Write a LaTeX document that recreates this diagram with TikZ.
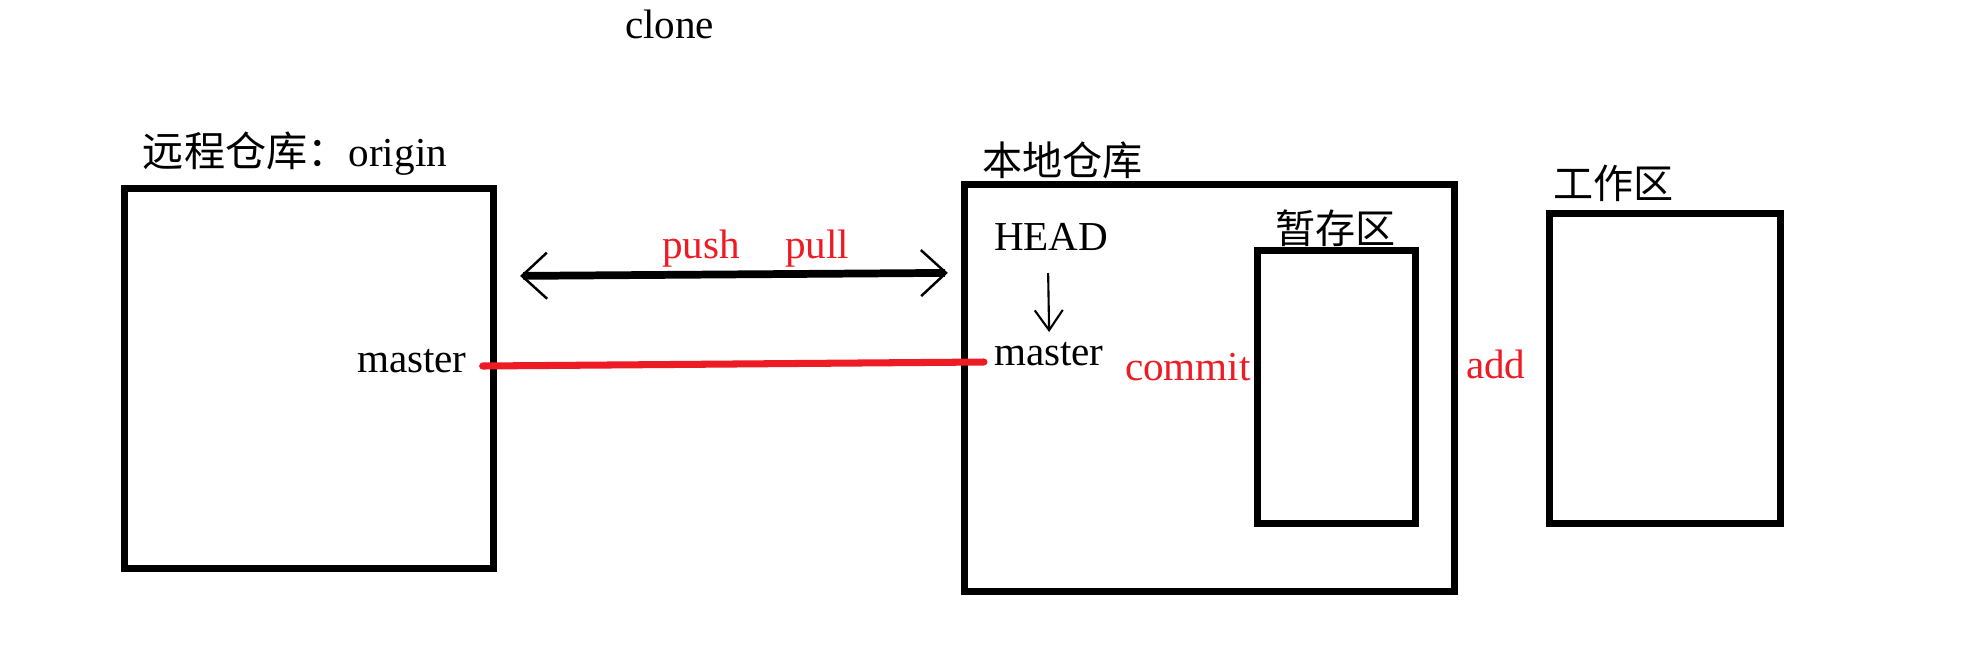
\documentclass[tikz,border=0pt]{standalone}
\usepackage{fontspec}
\setmainfont{Liberation Serif}
\newfontfamily\cjk{Noto Sans CJK SC}
\usetikzlibrary{arrows.meta,calc}
\definecolor{pred}{RGB}{237,28,36}
\tikzset{
  bigbarb/.tip={Straight Barb[length=0.25cm,width=0.46cm,line width=0.7pt]},
  smallbarb/.tip={Straight Barb[length=0.2cm,width=0.28cm]}
}
\begin{document}
\begin{tikzpicture}[x=0.01cm,y=-0.01cm,
  box/.style={draw=black, line width=2pt, inner sep=0pt, outer sep=0pt},
  lbl/.style={inner sep=0pt, outer sep=0pt, anchor=base west, font=\fontsize{11.7pt}{14pt}\selectfont},
  cjklbl/.style={lbl, font=\fontsize{11.4pt}{14pt}\selectfont\cjk},
  redlbl/.style={lbl, text=pred}]
\useasboundingbox (0,0) rectangle (1978,660);

% boxes
\node[box, minimum width=3.68cm, minimum height=3.79cm] (remote) at (309,378.5) {};
\node[box, minimum width=4.89cm, minimum height=4.06cm] (local) at (1209.5,388) {};
\node[box, minimum width=1.57cm, minimum height=2.72cm] (stage) at (1336.5,387) {};
\node[box, minimum width=2.30cm, minimum height=3.09cm] (work) at (1665,368.5) {};

% labels
\node[lbl] (clone) at (625,38) {clone};
\node[lbl] (rtitle) at (143,166) {{\cjk 远程仓库：}origin};
\node[lbl] (rmaster) at (357,372) {master};
\node[redlbl] (push) at (662,258) {push};
\node[redlbl] (pull) at (785,258) {pull};
\node[cjklbl] (ltitle) at (982,175) {本地仓库};
\node[lbl] (head) at (994,250) {HEAD};
\node[lbl] (lmaster) at (994,365) {master};
\node[redlbl] (commit) at (1125,380) {commit};
\node[cjklbl] (stitle) at (1275,243) {暂存区};
\node[redlbl] (add) at (1466,378) {add};
\node[cjklbl] (wtitle) at (1553,198) {工作区};

% push / pull double arrow
\draw[line width=2.2pt, bigbarb-bigbarb]
  ($(remote.north east)+(27,87)$) -- ($(local.north west)+(-17,88)$);

% red master link
\draw[pred, line width=2pt, line cap=round]
  ($(rmaster.base east)+(16,-6)$) -- ($(lmaster.base west)+(-10,-3)$);

% HEAD -> master
\draw[line width=0.6pt, -smallbarb]
  ($(head.base)+(-3,23)$) -- ($(head.base)+(-2,82)$);
\end{tikzpicture}
\end{document}
